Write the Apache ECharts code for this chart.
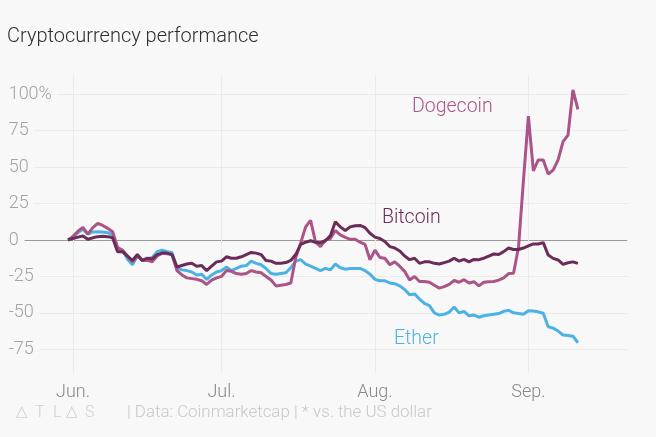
<!DOCTYPE html>
<html><head><meta charset="utf-8">
<script src="https://cdn.jsdelivr.net/npm/echarts@6/dist/echarts.min.js"></script>
<style>html,body{margin:0;padding:0;background:#f8f8f8}#c{width:656px;height:437px}</style>
</head><body><div id="c"></div>
<script>
// ---- data (daily, from 31 May to 11 Sep) ----
const dataStart = [2018, 4, 31];      // 31 May
const axisDaysBefore = 12;            // axis starts 12 days before the first data point
const axisDaysAfter = 10;             // and ends 10 days after the last one
const monthLabels = ['Jan.','Feb.','Mar.','Apr.','May','Jun.','Jul.','Aug.','Sep.','Oct.','Nov.','Dec.'];
const yTickLabels = {100: '100%', 75: '75', 50: '50', 25: '25', 0: '0', '-25': '-25', '-50': '-50', '-75': '-75'};

const bitcoin = [0,1,2,2.7,0.5,1.5,2.3,2.5,2.3,1.5,
  -8,-8,-11,-14,-10,-14,-12.5,-13,-10,-9,
  -9,-10,-18.5,-17.5,-16.5,-16,-18,-17.5,-21,-18,
  -15,-14.5,-11.5,-12.5,-12.5,-11.5,-10,-8.5,-9,-10,
  -14,-14.5,-16,-16,-15.5,-14,-10,-3,-1.5,-0.5,
  -1.5,-1.8,-0.5,3,12.5,9,6.5,9,9.8,10,
  8.5,4.6,2,1,-1,-4.5,-5.5,-7.5,-11,-13.5,
  -12.5,-16,-15,-15,-16,-16.5,-15.5,-14.5,-12.5,-14.5,
  -13.3,-15,-13.3,-13.5,-12.5,-11,-9.6,-10,-8,-5.5,
  -6.5,-6.5,-5.5,-4.1,-2.7,-2.7,-1.8,-10.3,-12.6,-13.7,
  -16.7,-15.6,-15,-16];
const ether = [0,2,5,7.5,4,5.5,5.7,5.5,5,3.5,
  -6,-7,-13,-17,-11,-14,-13,-12,-8,-7,
  -8,-8.5,-19,-20.5,-21,-22,-24,-23.5,-27,-24,
  -22,-21,-18.5,-21,-19.5,-18,-17.5,-14.5,-16,-17,
  -19.5,-23,-23.5,-23,-22.5,-19,-14.5,-13.5,-16.5,-18,
  -19.5,-21,-19.5,-20.5,-16.5,-19,-20,-19.5,-19.5,-19.5,
  -21,-23.5,-27,-28,-28,-29.5,-30,-31.5,-34,-37.5,
  -37,-40.5,-43.5,-45,-50,-51.5,-51,-49.5,-46,-50,
  -49,-52,-51.5,-53,-52,-51.5,-51,-50.5,-49,-48.2,
  -50,-50.5,-51,-48.5,-48.7,-49.3,-50.3,-59.5,-60.5,-62.5,
  -65.2,-65.5,-66,-70.5];
const dogecoin = [0,2.5,6,8.7,4,8.5,11.5,10,8,5.7,
  -5,-7,-11,-15,-11,-14,-14,-15,-11,-9,
  -9.5,-10,-21,-24,-26,-26.5,-27,-28,-30.5,-27.5,
  -26,-25,-21,-21.5,-23,-23.5,-23,-21,-22,-22.5,
  -25,-27.5,-31.5,-31,-30.5,-29.5,-12,-2,9,13.5,
  -1.5,-4.5,0,1,6.5,3.5,1.8,0.5,0.5,-1.5,
  -3,-13.5,-7,-12,-12.5,-17,-15,-18,-21.5,-27.5,
  -25,-28.5,-28.5,-29,-31,-33,-32,-30.5,-27.8,-29,
  -27.2,-29.5,-28.6,-31.5,-29,-28.6,-28.5,-27.5,-26,-23,
  -22.8,-5,41,85,47.5,55,55,45.3,48,55,
  67.5,72,103,89.7];

// ---- build categories ----
const nDays = axisDaysBefore + bitcoin.length + axisDaysAfter;
const categories = [];
for (let i = 0; i < nDays; i++) {
  const d = new Date(Date.UTC(dataStart[0], dataStart[1], dataStart[2] - axisDaysBefore + i));
  categories.push(d.toISOString().slice(0, 10));
}
function pad(arr) {
  const out = [];
  for (let i = 0; i < axisDaysBefore; i++) out.push(null);
  arr.forEach(v => out.push(v));
  for (let i = 0; i < axisDaysAfter; i++) out.push(null);
  return out;
}
const isMonthStart = (idx, val) => val.slice(8, 10) === '01';

const FONT = 'Roboto, "Noto Sans", sans-serif';
const BG = '#f8f8f8';
const GRID = '#ebebeb';
const COL = {btc: '#6b2c57', eth: '#4cb2e5', doge: '#ab5487'};

const pxLeft = 8.65, pxRight = 28.6;
const chart = echarts.init(document.getElementById('c'), null, {renderer: 'canvas'});
chart.setOption({
  backgroundColor: BG,
  animation: false,
  title: {
    text: 'Cryptocurrency performance', left: 7, top: 27, padding: 0,
    textStyle: {fontFamily: FONT, fontSize: 20, fontWeight: 300, color: '#2e2e2e'}
  },
  grid: [
    {left: pxLeft, right: pxRight, top: 57.9, bottom: 51.3},
    {left: pxLeft, right: pxRight, top: 75, bottom: 64}
  ],
  xAxis: [
    {gridIndex: 0, type: 'category', data: categories, boundaryGap: false, show: false},
    {gridIndex: 1, type: 'category', data: categories, boundaryGap: false,
     axisLine: {show: false}, axisTick: {show: false},
     axisLabel: {interval: isMonthStart, margin: 10, color: '#888', fontSize: 18, fontFamily: FONT, fontWeight: 300,
       formatter: v => monthLabels[parseInt(v.slice(5, 7), 10) - 1]},
     splitLine: {show: true, interval: isMonthStart, lineStyle: {color: GRID, width: 1}}}
  ],
  yAxis: [
    {gridIndex: 0, type: 'value', min: -100, max: 125, interval: 25, z: 5,
     axisLine: {show: false}, axisTick: {show: false}, splitLine: {show: false},
     axisLabel: {inside: true, margin: 0, color: '#a3a3a3', fontSize: 18, fontFamily: FONT, fontWeight: 300,
       backgroundColor: BG, padding: [2, 6, 2, 0],
       formatter: v => (yTickLabels[v] !== undefined ? yTickLabels[v] : '')}},
    {gridIndex: 0, type: 'value', min: -100, max: 125, interval: 25, z: 0,
     axisLine: {show: false}, axisTick: {show: false}, axisLabel: {show: false},
     splitLine: {show: true, lineStyle: {width: 1,
       color: ['rgba(0,0,0,0)', GRID, GRID, GRID, '#9a9a9a', GRID, GRID, GRID, GRID, 'rgba(0,0,0,0)']}}},
    {gridIndex: 1, type: 'value', show: false}
  ],
  series: [
    {name: 'Ether', type: 'line', xAxisIndex: 0, yAxisIndex: 0, data: pad(ether), showSymbol: false,
     lineStyle: {color: COL.eth, width: 3}, itemStyle: {color: COL.eth}, z: 3},
    {name: 'Dogecoin', type: 'line', xAxisIndex: 0, yAxisIndex: 0, data: pad(dogecoin), showSymbol: false,
     lineStyle: {color: COL.doge, width: 3}, itemStyle: {color: COL.doge}, z: 4},
    {name: 'Bitcoin', type: 'line', xAxisIndex: 0, yAxisIndex: 0, data: pad(bitcoin), showSymbol: false,
     lineStyle: {color: COL.btc, width: 3}, itemStyle: {color: COL.btc}, z: 5}
  ],
  graphic: [
    {type: 'text', left: 412, top: 97, style: {text: 'Dogecoin', fill: COL.doge, font: '300 19.5px ' + FONT}},
    {type: 'text', left: 382, top: 208, style: {text: 'Bitcoin', fill: COL.btc, font: '300 19.5px ' + FONT}},
    {type: 'text', left: 394, top: 329, style: {text: 'Ether', fill: COL.eth, font: '300 19.5px ' + FONT}},
    {type: 'text', left: 16, top: 405, style: {text: '△', fill: '#cfcfcf', font: '300 15px ' + FONT}},
    {type: 'text', left: 35, top: 405, style: {text: 'T', fill: '#cfcfcf', font: '300 16px ' + FONT}},
    {type: 'text', left: 53, top: 405, style: {text: 'L', fill: '#cfcfcf', font: '300 16px ' + FONT}},
    {type: 'text', left: 66, top: 405, style: {text: '△', fill: '#cfcfcf', font: '300 15px ' + FONT}},
    {type: 'text', left: 85, top: 405, style: {text: 'S', fill: '#cfcfcf', font: '300 16px ' + FONT}},
    {type: 'text', left: 127, top: 404, style: {text: '| Data: Coinmarketcap | * vs. the US dollar', fill: '#c8c8c8', font: '300 16.9px ' + FONT}}
  ]
});
</script>
</body></html>
